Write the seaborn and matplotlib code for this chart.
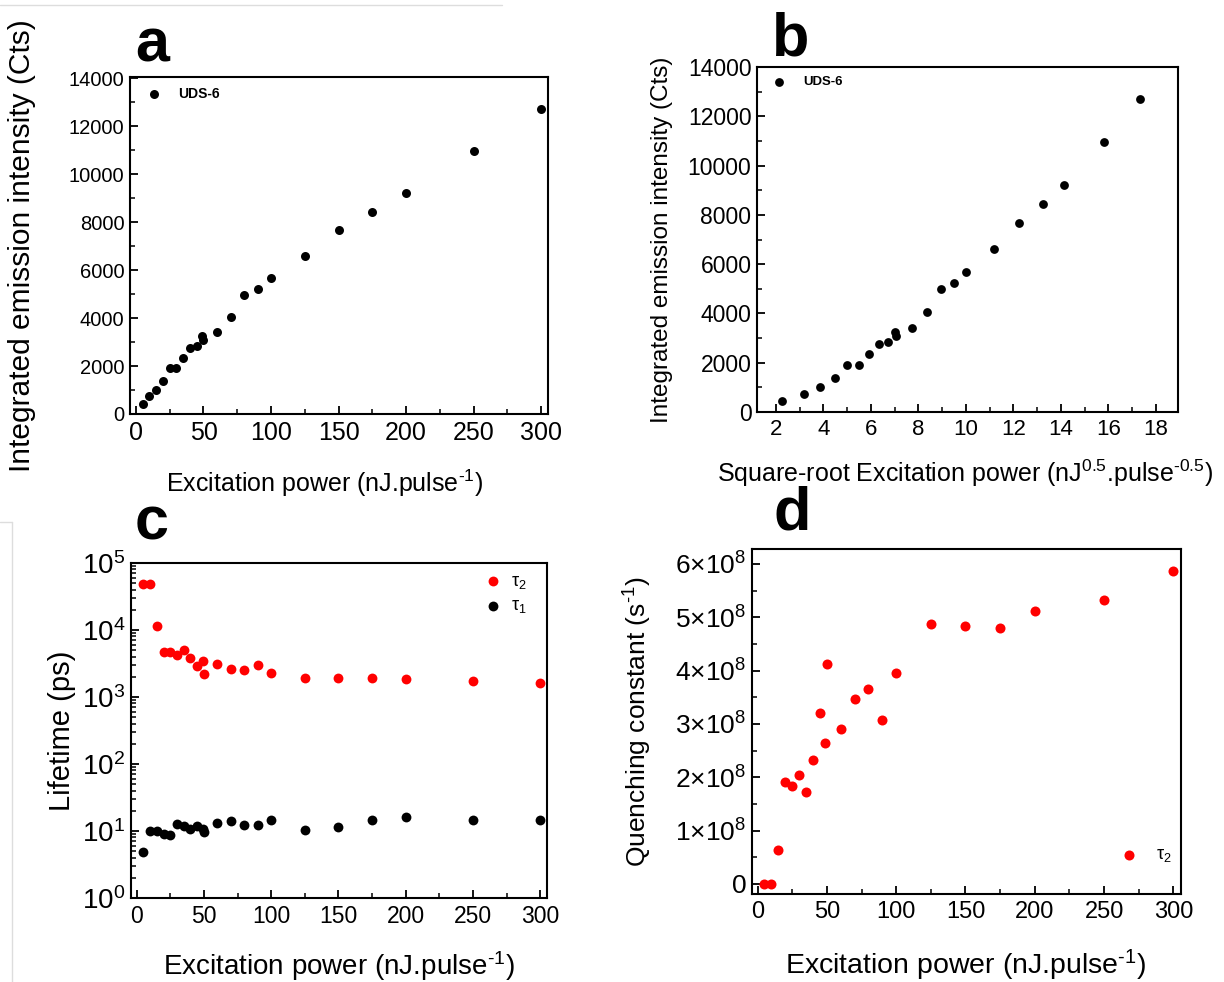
import numpy as np
import pandas as pd
import matplotlib
matplotlib.use("Agg")
import matplotlib.pyplot as plt
import seaborn as sns
from matplotlib.ticker import MultipleLocator, FuncFormatter, LogLocator, NullFormatter
from matplotlib.lines import Line2D

# ---------------- data ----------------
power = [5, 10, 15, 20, 25, 30, 35, 40, 45, 49, 50, 60, 70, 80, 90, 100, 125, 150, 175, 200, 250, 300]
intensity = [433, 738, 1015, 1375, 1904, 1904, 2350, 2767, 2833, 3250, 3083, 3417, 4058,
             4975, 5225, 5683, 6600, 7654, 8433, 9208, 10975, 12696]
tau2 = [49000, 49000, 11600, 4650, 4750, 4290, 5040, 3860, 2870, 3440, 2220, 3100, 2620,
        2500, 2970, 2300, 1920, 1920, 1930, 1830, 1750, 1600]
tau1 = [4.8, 9.85, 9.85, 9.1, 8.8, 12.8, 12.0, 10.8, 11.8, 10.7, 9.6, 13.3, 14.2, 12.5,
        12.4, 14.7, 10.5, 11.3, 14.4, 16.1, 14.4, 14.5]
quench_e8 = [0, 0, 0.63, 1.906, 1.83, 2.04, 1.726, 2.326, 3.2, 2.64, 4.13, 2.91, 3.47, 3.66,
             3.07, 3.96, 4.865, 4.83, 4.79, 5.11, 5.33, 5.86]

df = pd.DataFrame({
    "power": power,
    "sqrt_power": np.sqrt(power),
    "intensity": intensity,
    "tau2": tau2,
    "tau1": tau1,
    "quench": np.array(quench_e8) * 1e8,
})

# ---------------- style ----------------
sns.set_style("ticks")
plt.rcParams["font.family"] = ["Liberation Sans", "DejaVu Sans"]
plt.rcParams["mathtext.fontset"] = "custom"
plt.rcParams["mathtext.rm"] = "Liberation Sans"
plt.rcParams["mathtext.it"] = "Liberation Sans:italic"
plt.rcParams["mathtext.bf"] = "Liberation Sans:bold"
plt.rcParams["axes.linewidth"] = 1.5
for key in ["text.color", "axes.labelcolor", "xtick.color", "ytick.color", "axes.edgecolor",
            "xtick.labelcolor", "ytick.labelcolor"]:
    plt.rcParams[key] = "black"

W, H = 1224, 982
fig = plt.figure(figsize=(W / 100, H / 100), dpi=100)


def axes_px(left, top, right, bottom):
    return fig.add_axes([left / W, 1 - bottom / H, (right - left) / W, (bottom - top) / H])


def style_ax(ax, xfs, yfs):
    ax.tick_params(which="both", direction="in", top=False, right=False, colors="black",
                   labelcolor="black")
    ax.tick_params(which="major", length=6, width=1.3)
    ax.tick_params(which="minor", length=3.5, width=1.1)
    ax.tick_params(axis="x", labelsize=xfs, pad=5)
    ax.tick_params(axis="y", labelsize=yfs, pad=4)
    for s in ax.spines.values():
        s.set_visible(True)
        s.set_color("black")
        s.set_linewidth(1.5)


ax_a = axes_px(130, 77, 548, 414)
ax_b = axes_px(757, 67, 1178, 412)
ax_c = axes_px(131, 563, 547, 898)
ax_d = axes_px(752, 549, 1181, 894)

SUP1 = "$^{\\text{-1}}$"

# ---------------- panel a ----------------
sns.scatterplot(data=df, x="power", y="intensity", ax=ax_a, color="black", s=42,
                linewidth=0, label="UDS-6")
ax_a.set_xlim(-4.4, 305)
ax_a.set_ylim(0, 14050)
ax_a.xaxis.set_major_locator(MultipleLocator(50))
ax_a.xaxis.set_minor_locator(MultipleLocator(25))
ax_a.yaxis.set_major_locator(MultipleLocator(2000))
ax_a.yaxis.set_minor_locator(MultipleLocator(1000))
style_ax(ax_a, 18, 14.5)
ax_a.set_xlabel("Excitation power (nJ.pulse" + SUP1 + ")", fontsize=18)
ax_a.set_ylabel("Integrated emission intensity (Cts)", fontsize=21.5)
ax_a.xaxis.set_label_coords(0.466, -0.16)
ax_a.yaxis.set_label_coords(-0.225, 0.5)
ax_a.legend(loc="upper left", frameon=False, prop={"weight": "bold", "size": 10},
            handletextpad=0.8, borderaxespad=0.3, markerscale=1.0)

# ---------------- panel b ----------------
sns.scatterplot(data=df, x="sqrt_power", y="intensity", ax=ax_b, color="black", s=40,
                linewidth=0, label="UDS-6")
ax_b.set_xlim(1.2, 18.93)
ax_b.set_ylim(0, 14000)
ax_b.xaxis.set_major_locator(MultipleLocator(2))
ax_b.xaxis.set_minor_locator(MultipleLocator(1))
ax_b.yaxis.set_major_locator(MultipleLocator(2000))
ax_b.yaxis.set_minor_locator(MultipleLocator(1000))
style_ax(ax_b, 16, 16.5)
ax_b.set_xlabel("Square-root Excitation power (nJ$^{0.5}$.pulse$^{\\text{-0.5}}$)", fontsize=18)
ax_b.set_ylabel("Integrated emission intensity (Cts)", fontsize=17.5)
ax_b.xaxis.set_label_coords(0.495, -0.133)
ax_b.yaxis.set_label_coords(-0.2, 0.5)
ax_b.legend(loc="upper left", frameon=False, prop={"weight": "bold", "size": 9.5},
            handletextpad=0.8, borderaxespad=0.3, markerscale=1.0)

# ---------------- panel c ----------------
sns.scatterplot(data=df, x="power", y="tau2", ax=ax_c, color="red", s=50, linewidth=0,
                label="τ$_2$")
sns.scatterplot(data=df, x="power", y="tau1", ax=ax_c, color="black", s=50, linewidth=0,
                label="τ$_1$")
ax_c.set_yscale("log")
ax_c.set_xlim(-4.2, 305)
ax_c.set_ylim(1, 1e5)
ax_c.xaxis.set_major_locator(MultipleLocator(50))
ax_c.xaxis.set_minor_locator(MultipleLocator(25))
ax_c.yaxis.set_major_locator(LogLocator(base=10, numticks=10))
ax_c.yaxis.set_minor_locator(LogLocator(base=10, subs=np.arange(2, 10), numticks=10))
ax_c.yaxis.set_minor_formatter(NullFormatter())
style_ax(ax_c, 16.5, 20)
ax_c.set_xlabel("Excitation power (nJ.pulse" + SUP1 + ")", fontsize=20)
ax_c.set_ylabel("Lifetime (ps)", fontsize=21)
ax_c.xaxis.set_label_coords(0.499, -0.152)
ax_c.yaxis.set_label_coords(-0.132, 0.5)
ax_c.legend(loc="upper right", bbox_to_anchor=(0.975, 1.0), frameon=False,
            prop={"size": 13}, handlelength=1.0, handletextpad=0.5,
            borderaxespad=0.15, labelspacing=0.35, markerscale=1.0)

# ---------------- panel d ----------------
sns.scatterplot(data=df, x="power", y="quench", ax=ax_d, color="red", s=52, linewidth=0,
                label="τ$_2$")
ax_d.set_xlim(-4, 305.5)
ax_d.set_ylim(-0.19e8, 6.28e8)
ax_d.xaxis.set_major_locator(MultipleLocator(50))
ax_d.xaxis.set_minor_locator(MultipleLocator(25))
ax_d.yaxis.set_major_locator(MultipleLocator(1e8))
ax_d.yaxis.set_minor_locator(MultipleLocator(0.5e8))


def qfmt(v, pos):
    n = int(round(v / 1e8))
    return "0" if n == 0 else f"{n}×10$^{{8}}$"


ax_d.yaxis.set_major_formatter(FuncFormatter(qfmt))
style_ax(ax_d, 17, 19)
ax_d.set_xlabel("Excitation power (nJ.pulse" + SUP1 + ")", fontsize=20.5)
ax_d.set_ylabel("Quenching constant (s" + SUP1 + ")", fontsize=19)
ax_d.xaxis.set_label_coords(0.497, -0.155)
ax_d.yaxis.set_label_coords(-0.228, 0.5)
ax_d.legend(loc="lower right", bbox_to_anchor=(1.0, 0.06), frameon=False,
            prop={"size": 13}, handlelength=1.0, handletextpad=1.0,
            borderaxespad=0.1, markerscale=1.0)

# ---------------- panel letters ----------------
for letter, x, y in [("a", 135, 62), ("b", 772, 55), ("c", 135, 540), ("d", 773, 530)]:
    fig.text(x / W, 1 - y / H, letter, fontsize=44, fontweight="bold", ha="left",
             va="baseline", color="black")

# faint frame artefacts of the source image
fig.add_artist(Line2D([0, 502 / W], [1 - 5 / H, 1 - 5 / H], transform=fig.transFigure,
                      color="#dddddd", lw=1))
fig.add_artist(Line2D([12 / W, 12 / W], [1 - 522 / H, 0], transform=fig.transFigure,
                      color="#dddddd", lw=1))
fig.add_artist(Line2D([0, 12 / W], [1 - 522 / H, 1 - 522 / H], transform=fig.transFigure,
                      color="#dddddd", lw=1))

fig.savefig("out.png", dpi=100, facecolor="white")
